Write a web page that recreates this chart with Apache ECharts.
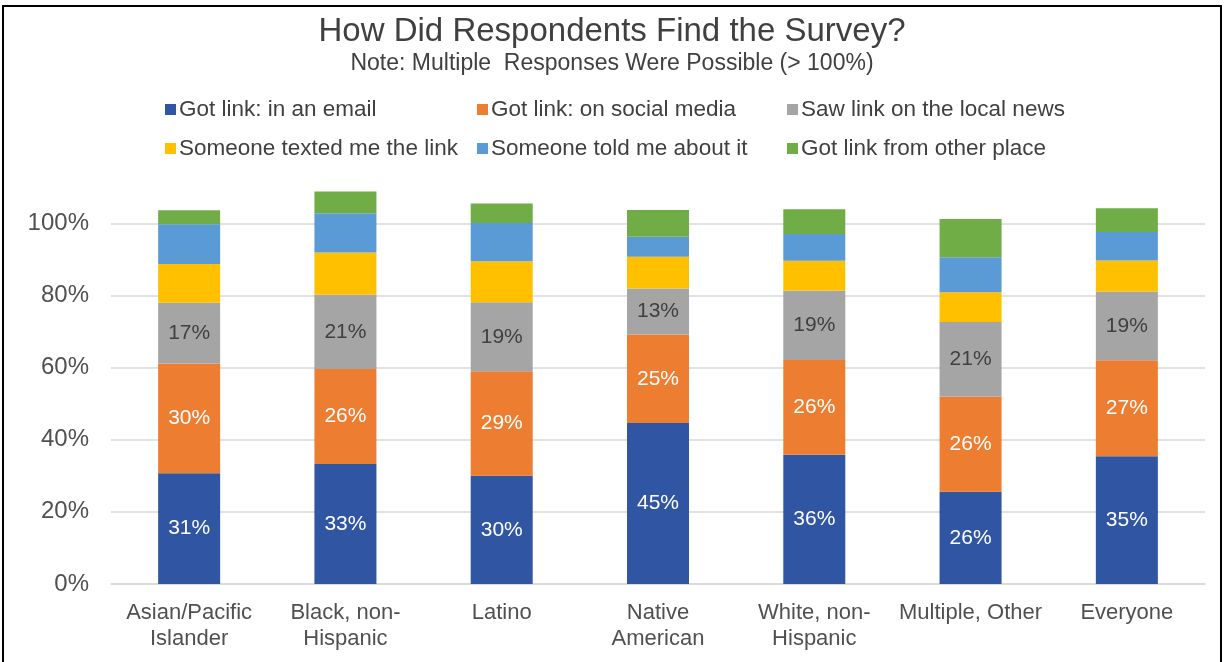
<!DOCTYPE html>
<html><head><meta charset="utf-8">
<script src="https://cdn.jsdelivr.net/npm/echarts@6/dist/echarts.min.js"></script>
<style>html,body{margin:0;padding:0;background:#fff}#c{width:1224px;height:662px}</style>
</head><body><div id="c"></div>
<script>
const categories = ["Asian/Pacific\nIslander","Black, non-\nHispanic","Latino","Native\nAmerican","White, non-\nHispanic","Multiple, Other","Everyone"];
const seriesNames = ["Got link: in an email","Got link: on social media","Saw link on the local news","Someone texted me the link","Someone told me about it","Got link from other place"];
const email  = [30.7, 33.3, 30.0, 44.6, 35.8, 25.6, 35.4];
const social = [30.4, 26.3, 29.0, 24.6, 26.3, 26.4, 26.6];
const news   = [16.9, 20.6, 19.1, 12.7, 19.3, 20.6, 19.1];
const texted = [10.7, 11.7, 11.4, 8.8, 8.2, 8.3, 8.6];
const told   = [11.0, 10.9, 10.6, 5.6, 7.4, 9.7, 7.9];
const other  = [3.9, 6.0, 5.4, 7.4, 6.9, 10.6, 6.6];
const yTicks = ["0%","20%","40%","60%","80%","100%"];

const colors = ["#2F55A3","#ED7D31","#A5A5A5","#FFC000","#5B9BD5","#70AD47"];
const allData = [email, social, news, texted, told, other];
const labelColors = ["#ffffff","#ffffff","#404040",null,null,null];
const font = "Liberation Sans, Arial, sans-serif";

const series = allData.map((d, i) => ({
  name: seriesNames[i], type: 'bar', stack: 'total', data: d,
  barWidth: 62, itemStyle: {color: colors[i]},
  label: labelColors[i] ? {show: true, position: 'inside', color: labelColors[i], fontSize: 21, fontFamily: font,
    formatter: p => Math.round(p.value) + '%'} : {show: false}
}));

const legendCol = (names, left) => ({
  data: names, orient: 'vertical', left: left, top: 93, itemGap: 16,
  icon: 'rect', itemWidth: 11, itemHeight: 11,
  textStyle: {fontSize: 22.5, color: '#404040', fontFamily: font, padding: [0,0,0,-2]}
});

const chart = echarts.init(document.getElementById('c'), null, {renderer: 'canvas'});
chart.setOption({
  animation: false,
  backgroundColor: '#fff',
  color: colors,
  title: [
    {text: 'How Did Respondents Find the Survey?', left: 'center', top: 10,
     textStyle: {fontSize: 33, fontWeight: 'normal', color: '#404040', fontFamily: font}},
    {text: 'Note: Multiple  Responses Were Possible (> 100%)', left: 'center', top: 47,
     textStyle: {fontSize: 23, fontWeight: 'normal', color: '#404040', fontFamily: font}}
  ],
  legend: [
    legendCol([seriesNames[0], seriesNames[3]], 160),
    legendCol([seriesNames[1], seriesNames[4]], 472),
    legendCol([seriesNames[2], seriesNames[5]], 782)
  ],
  grid: {left: 111, right: 19, top: 180, bottom: 78, containLabel: false},
  xAxis: {
    type: 'category', data: categories,
    axisLine: {lineStyle: {color: '#D9D9D9', width: 1.5}},
    axisTick: {show: false},
    axisLabel: {fontSize: 22, color: '#505050', fontFamily: font, margin: 16, lineHeight: 26, interval: 0}
  },
  yAxis: {
    type: 'value', min: 0, max: 112, interval: 20,
    axisLine: {show: false}, axisTick: {show: false},
    splitLine: {lineStyle: {color: '#D9D9D9', width: 1.5}, showMaxLine: false},
    axisLabel: {fontSize: 24, color: '#505050', fontFamily: font, margin: 22, showMaxLabel: false,
      formatter: v => (v % 20 === 0 && v <= 100) ? yTicks[v / 20] : ''}
  },
  graphic: [{type: 'rect', shape: {x: 3, y: 6, width: 1218, height: 670},
    style: {fill: null, stroke: '#000', lineWidth: 2}, silent: true, z: 100}],
  series: series
});
</script></body></html>
